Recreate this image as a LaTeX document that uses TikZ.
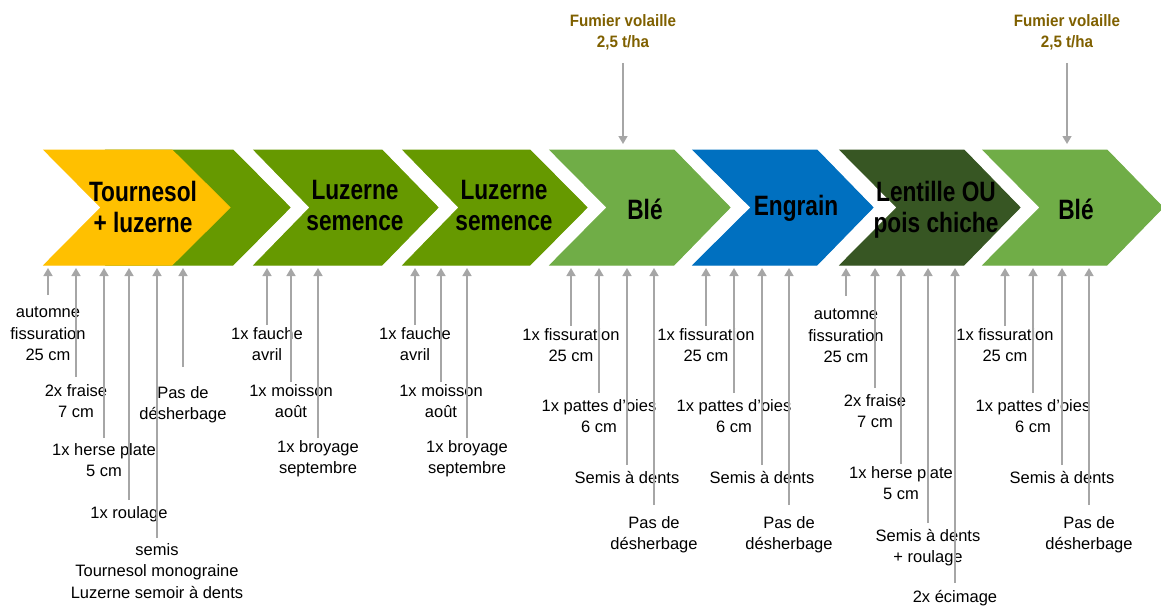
\documentclass[tikz,border=0pt]{standalone}
\usepackage{fontspec}
\usepackage{xcolor}
\usepackage{tikz}
\usetikzlibrary{shapes,arrows.meta,positioning,calc}

\setmainfont{Liberation Sans}
\newfontfamily\headfont{Liberation Sans}[FakeStretch=0.81]
\newfontfamily\fumfont{Liberation Sans}[FakeStretch=0.92]

\definecolor{tournesol}{HTML}{FFC000}
\definecolor{luzerne}{HTML}{669900}
\definecolor{ble}{HTML}{70AD47}
\definecolor{engrain}{HTML}{0070C0}
\definecolor{lentille}{HTML}{375623}
\definecolor{fumier}{HTML}{7F6000}
\definecolor{gris}{HTML}{A6A6A6}

\tikzset{
  culture/.style={font=\headfont\bfseries\fontsize{28}{31}\selectfont, align=center, inner sep=0pt},
  travail/.style={font=\fontsize{16.5}{21.5}\selectfont, align=center, anchor=north, inner sep=2pt},
  apport/.style={font=\fumfont\bfseries\fontsize{16.5}{21}\selectfont, text=fumier, align=center, anchor=north, inner sep=2pt},
  fleche/.style={draw=gris, line width=1.5pt, -{Triangle[width=9pt,length=8pt]}},
  bloc/.style={draw=white, line width=1pt}
}

\begin{document}
\begin{tikzpicture}[x=1pt, y=-1pt]
    \useasboundingbox (0,0) rectangle (1161,607);

    % chevrons
    \fill[bloc, luzerne] (106,150) -- (233,150) -- (290,207.5) -- (233,265) -- (106,265) -- (163,207.5) -- cycle;
    \fill[bloc, tournesol] (44,150) -- (172,150) -- (230,207.5) -- (172,265) -- (44,265) -- (101,207.5) -- cycle;
    \fill[bloc, luzerne] (254,150) -- (382,150) -- (438,207.5) -- (382,265) -- (254,265) -- (310,207.5) -- cycle;
    \fill[bloc, luzerne] (403,150) -- (530,150) -- (587,207.5) -- (530,265) -- (403,265) -- (459,207.5) -- cycle;
    \fill[bloc, ble] (550,150) -- (674,150) -- (730,207.5) -- (674,265) -- (550,265) -- (607,207.5) -- cycle;
    \fill[bloc, engrain] (693,150) -- (817,150) -- (873,207.5) -- (817,265) -- (693,265) -- (751,207.5) -- cycle;
    \fill[bloc, lentille] (840,150) -- (964,150) -- (1020,207.5) -- (964,265) -- (840,265) -- (897,207.5) -- cycle;
    \fill[bloc, ble] (983,150) -- (1107,150) -- (1163,207.5) -- (1107,265) -- (983,265) -- (1040,207.5) -- cycle;

    \node[culture] (c1) at (143,207) {Tournesol\\+ luzerne};
    \node[culture] (c2) at (355,206) {Luzerne\\semence};
    \node[culture] (c3) at (504,206) {Luzerne\\semence};
    \node[culture] (c4) at (645,209) {Blé};
    \node[culture] (c5) at (796,208) {Engrain};
    \node[culture] (c6) at (936,210) {Lentille OU\\pois chiche};
    \node[culture] (c7) at (1076,209) {Blé};

    \coordinate (bas) at (0,268);
    \coordinate (haut) at (0,144);

    % apports
    \node[apport] (f1) at (623,12) {Fumier volaille\\2,5 t/ha};
    \node[apport] (f2) at (1067,12) {Fumier volaille\\2,5 t/ha};

    % travaux du sol
    \node[travail] (t1a) at (48,305) {automne\\fissuration\\25 cm};
    \node[travail] (t1b) at (76,382) {2x fraise\\7 cm};
    \node[travail] (t1c) at (104,441) {1x herse plate\\5 cm};
    \node[travail] (t1d) at (129,504) {1x roulage};
    \node[travail] (t1e) at (157,541) {semis\\Tournesol monograine\\Luzerne semoir à dents};
    \node[travail] (t1f) at (183,384) {Pas de\\désherbage};

    \node[travail] (t2a) at (267,325) {1x fauche\\avril};
    \node[travail] (t2b) at (291,382) {1x moisson\\août};
    \node[travail] (t2c) at (318,438) {1x broyage\\septembre};

    \node[travail] (t3a) at (415,325) {1x fauche\\avril};
    \node[travail] (t3b) at (441,382) {1x moisson\\août};
    \node[travail] (t3c) at (467,438) {1x broyage\\septembre};

    \node[travail] (t4a) at (571,326) {1x fissuration\\25 cm};
    \node[travail] (t4b) at (599,397) {1x pattes d’oies\\6 cm};
    \node[travail] (t4c) at (627,469) {Semis à dents};
    \node[travail] (t4d) at (654,514) {Pas de\\désherbage};

    \node[travail] (t5a) at (706,326) {1x fissuration\\25 cm};
    \node[travail] (t5b) at (734,397) {1x pattes d’oies\\6 cm};
    \node[travail] (t5c) at (762,469) {Semis à dents};
    \node[travail] (t5d) at (789,514) {Pas de\\désherbage};

    \node[travail] (t6a) at (846,307) {automne\\fissuration\\25 cm};
    \node[travail] (t6b) at (875,392) {2x fraise\\7 cm};
    \node[travail] (t6c) at (901,464) {1x herse plate\\5 cm};
    \node[travail] (t6d) at (928,527) {Semis à dents\\+ roulage};
    \node[travail] (t6e) at (955,588) {2x écimage};

    \node[travail] (t7a) at (1005,326) {1x fissuration\\25 cm};
    \node[travail] (t7b) at (1033,397) {1x pattes d’oies\\6 cm};
    \node[travail] (t7c) at (1062,469) {Semis à dents};
    \node[travail] (t7d) at (1089,514) {Pas de\\désherbage};

    % fleches
    \draw[fleche, shorten <=11pt] (f1.south) -- (f1.south |- haut);
    \draw[fleche, shorten <=11pt] (f2.south) -- (f2.south |- haut);

    \draw[fleche, shorten <=10pt] (t1a.north) -- (t1a.north |- bas);
    \draw[fleche, shorten <=5pt] (t1b.north) -- (t1b.north |- bas);
    \draw[fleche, shorten <=3pt] (t1c.north) -- (t1c.north |- bas);
    \draw[fleche, shorten <=4pt] (t1d.north) -- (t1d.north |- bas);
    \draw[fleche, shorten <=3pt] (t1e.north) -- (t1e.north |- bas);
    \draw[fleche, shorten <=17pt] (t1f.north) -- (t1f.north |- bas);

    \draw[fleche] (t2a.north) -- (t2a.north |- bas);
    \draw[fleche] (t2b.north) -- (t2b.north |- bas);
    \draw[fleche] (t2c.north) -- (t2c.north |- bas);
    \draw[fleche] (t3a.north) -- (t3a.north |- bas);
    \draw[fleche] (t3b.north) -- (t3b.north |- bas);
    \draw[fleche] (t3c.north) -- (t3c.north |- bas);

    \draw[fleche] (t4a.north) -- (t4a.north |- bas);
    \draw[fleche, shorten <=4pt] (t4b.north) -- (t4b.north |- bas);
    \draw[fleche, shorten <=4pt] (t4c.north) -- (t4c.north |- bas);
    \draw[fleche, shorten <=9pt] (t4d.north) -- (t4d.north |- bas);

    \draw[fleche] (t5a.north) -- (t5a.north |- bas);
    \draw[fleche, shorten <=4pt] (t5b.north) -- (t5b.north |- bas);
    \draw[fleche, shorten <=4pt] (t5c.north) -- (t5c.north |- bas);
    \draw[fleche, shorten <=9pt] (t5d.north) -- (t5d.north |- bas);

    \draw[fleche, shorten <=11pt] (t6a.north) -- (t6a.north |- bas);
    \draw[fleche, shorten <=4pt] (t6b.north) -- (t6b.north |- bas);
    \draw[fleche] (t6c.north) -- (t6c.north |- bas);
    \draw[fleche, shorten <=4pt] (t6d.north) -- (t6d.north |- bas);
    \draw[fleche, shorten <=5pt] (t6e.north) -- (t6e.north |- bas);

    \draw[fleche] (t7a.north) -- (t7a.north |- bas);
    \draw[fleche, shorten <=4pt] (t7b.north) -- (t7b.north |- bas);
    \draw[fleche, shorten <=4pt] (t7c.north) -- (t7c.north |- bas);
    \draw[fleche, shorten <=9pt] (t7d.north) -- (t7d.north |- bas);
\end{tikzpicture}
\end{document}
